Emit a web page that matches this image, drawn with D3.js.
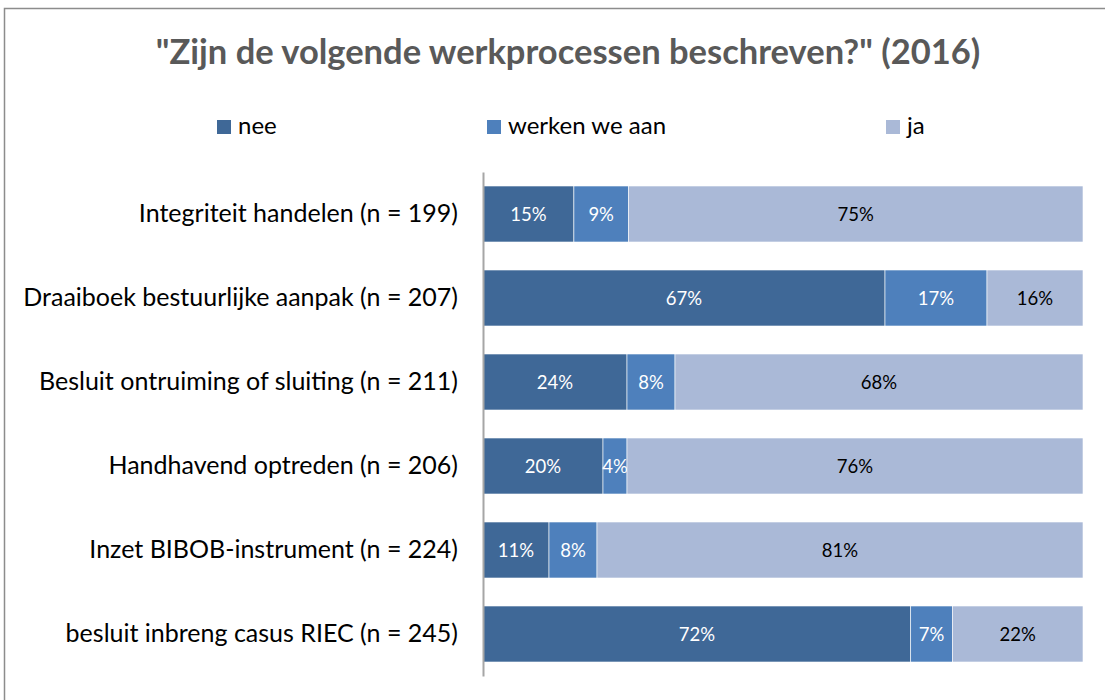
<!DOCTYPE html>
<html>
<head>
<meta charset="utf-8">
<script src="https://cdn.jsdelivr.net/npm/d3@7"></script>
<style>
    body { margin: 0; background: #fff; }
    svg { display: block; font-family: Lato, "Open Sans", sans-serif; }
</style>
</head>
<body>
<svg class="chart" width="1105" height="700"></svg>
<script>

const title = '"Zijn de volgende werkprocessen beschreven?" (2016)';

const categories = [
    'Integriteit handelen (n = 199)',
    'Draaiboek bestuurlijke aanpak (n = 207)',
    'Besluit ontruiming of sluiting (n = 211)',
    'Handhavend optreden (n = 206)',
    'Inzet BIBOB-instrument (n = 224)',
    'besluit inbreng casus RIEC (n = 245)'
];

const series = ['nee', 'werken we aan', 'ja'];

const nee         = [15, 67, 24, 20, 11, 72];
const werkenWeAan = [9, 17, 8, 4, 8, 7];
const ja          = [75, 16, 68, 76, 81, 22];

const colors = ['#3F6897', '#4E80BC', '#AAB9D7'];
const labelColors = ['#fff', '#fff', '#000'];

const svg = d3.select('.chart');

// outer frame (clipped at right and bottom like the original)
svg.append('rect')
    .attr('x', 4.5).attr('y', 8.5)
    .attr('width', 1200).attr('height', 800)
    .attr('fill', 'none')
    .attr('stroke', '#8C8C8C')
    .attr('stroke-width', 1.5);

svg.append('text')
    .attr('x', 568).attr('y', 64)
    .attr('text-anchor', 'middle')
    .attr('font-size', 34.5)
    .attr('font-weight', 'bold')
    .attr('fill', '#595959')
    .text(title);

// legend
const legendX = [217, 487, 886];

const legend = svg.append('g')
    .selectAll('g')
    .data(series)
    .join('g')
    .attr('transform', (d, i) => `translate(${legendX[i]}, 120)`);

legend.append('rect')
    .attr('width', 14).attr('height', 14)
    .attr('fill', (d, i) => colors[i]);

legend.append('text')
    .attr('x', 21).attr('y', 14)
    .attr('font-size', 24)
    .attr('fill', '#000')
    .text(d => d);

// stacked data, normalised to 100%
const rows = categories.map((c, i) => {
    const vals = [nee[i], werkenWeAan[i], ja[i]];
    const total = d3.sum(vals);
    let acc = 0;
    return vals.map((v, k) => {
        const seg = { cat: c, k: k, v: v, x0: acc / total, x1: (acc + v) / total };
        acc += v;
        return seg;
    });
});

const x = d3.scaleLinear().domain([0, 1]).range([483, 1083]);

const y = d3.scaleBand()
    .domain(categories)
    .range([172, 676])
    .paddingInner(1/3)
    .paddingOuter(1/6);

const bars = svg.append('g')
    .selectAll('g')
    .data(rows.flat())
    .join('g');

bars.append('rect')
    .attr('x', d => x(d.x0))
    .attr('y', d => y(d.cat))
    .attr('width', d => x(d.x1) - x(d.x0))
    .attr('height', y.bandwidth())
    .attr('fill', d => colors[d.k])
    .attr('stroke', '#fff')
    .attr('stroke-width', 0.6);

bars.append('text')
    .attr('x', d => (x(d.x0) + x(d.x1)) / 2)
    .attr('y', d => y(d.cat) + y.bandwidth() / 2 + 6.5)
    .attr('text-anchor', 'middle')
    .attr('font-size', 18.5)
    .attr('fill', d => labelColors[d.k])
    .text(d => d.v + '%');

// category axis
const yAxis = svg.append('g')
    .attr('transform', 'translate(483, 0)')
    .call(d3.axisLeft(y).tickSize(0).tickPadding(25));

yAxis.select('.domain')
    .attr('stroke', '#A6A6A6')
    .attr('stroke-width', 2);

yAxis.selectAll('text')
    .attr('font-size', 25)
    .attr('font-family', 'Lato, "Open Sans", sans-serif')
    .attr('fill', '#000');

</script>
</body>
</html>
